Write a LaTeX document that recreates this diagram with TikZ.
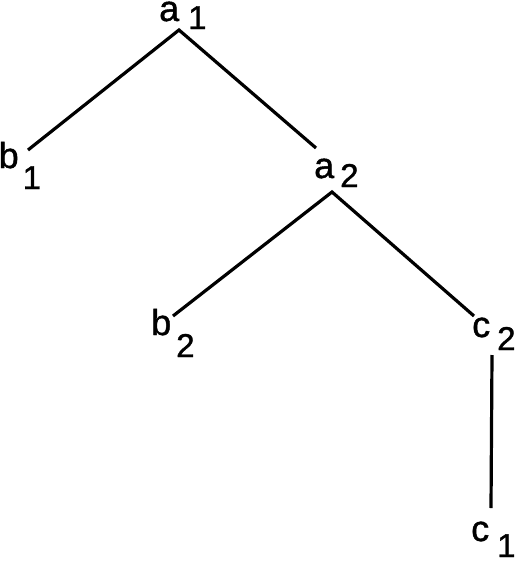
\documentclass[tikz,border=0pt]{standalone}
\usepackage{fontspec}
\setmainfont{Liberation Sans}
\newfontfamily\labfont{Liberation Sans}[FakeBold=1.2]
\usetikzlibrary{calc}
\newcommand{\treelab}[4]{\labfont\fontsize{36}{36}\selectfont #1\hspace{#4pt}\raisebox{-#3pt}{\fontsize{33}{33}\selectfont #2}}
\begin{document}
\begin{tikzpicture}[x=1pt,y=1pt,
  lab/.style={inner sep=0pt,anchor=base west,text=black},
  edge/.style={line width=3.2pt,draw=black}]
\useasboundingbox[fill=white] (0,0) rectangle (516,-562);
\node[lab] (a1) at (159,-21) {\treelab{a}{1}{8}{9}};
\node[lab] (b1) at (-1.5,-168) {\treelab{b}{1}{21}{4}};
\node[lab] (a2) at (314,-178) {\treelab{a}{2}{9}{6}};
\node[lab] (b2) at (151,-335) {\treelab{b}{2}{22}{5}};
\node[lab] (c2) at (472,-337) {\treelab{c}{2}{13}{7}};
\node[lab] (c1) at (471,-541) {\treelab{c}{1}{16}{8}};
\draw[edge] ($(b1.base west)+(29.5,18)$) -- ($(a1.base west)+(20,-9)$) -- ($(a2.base west)+(2,30)$);
\draw[edge] ($(b2.base west)+(22,19)$) -- ($(a2.base west)+(18,-14)$) -- ($(c2.base west)+(2,21)$);
\draw[edge] ($(c2.base west)+(20,-18)$) -- ($(c1.base west)+(20,33)$);
\end{tikzpicture}
\end{document}
